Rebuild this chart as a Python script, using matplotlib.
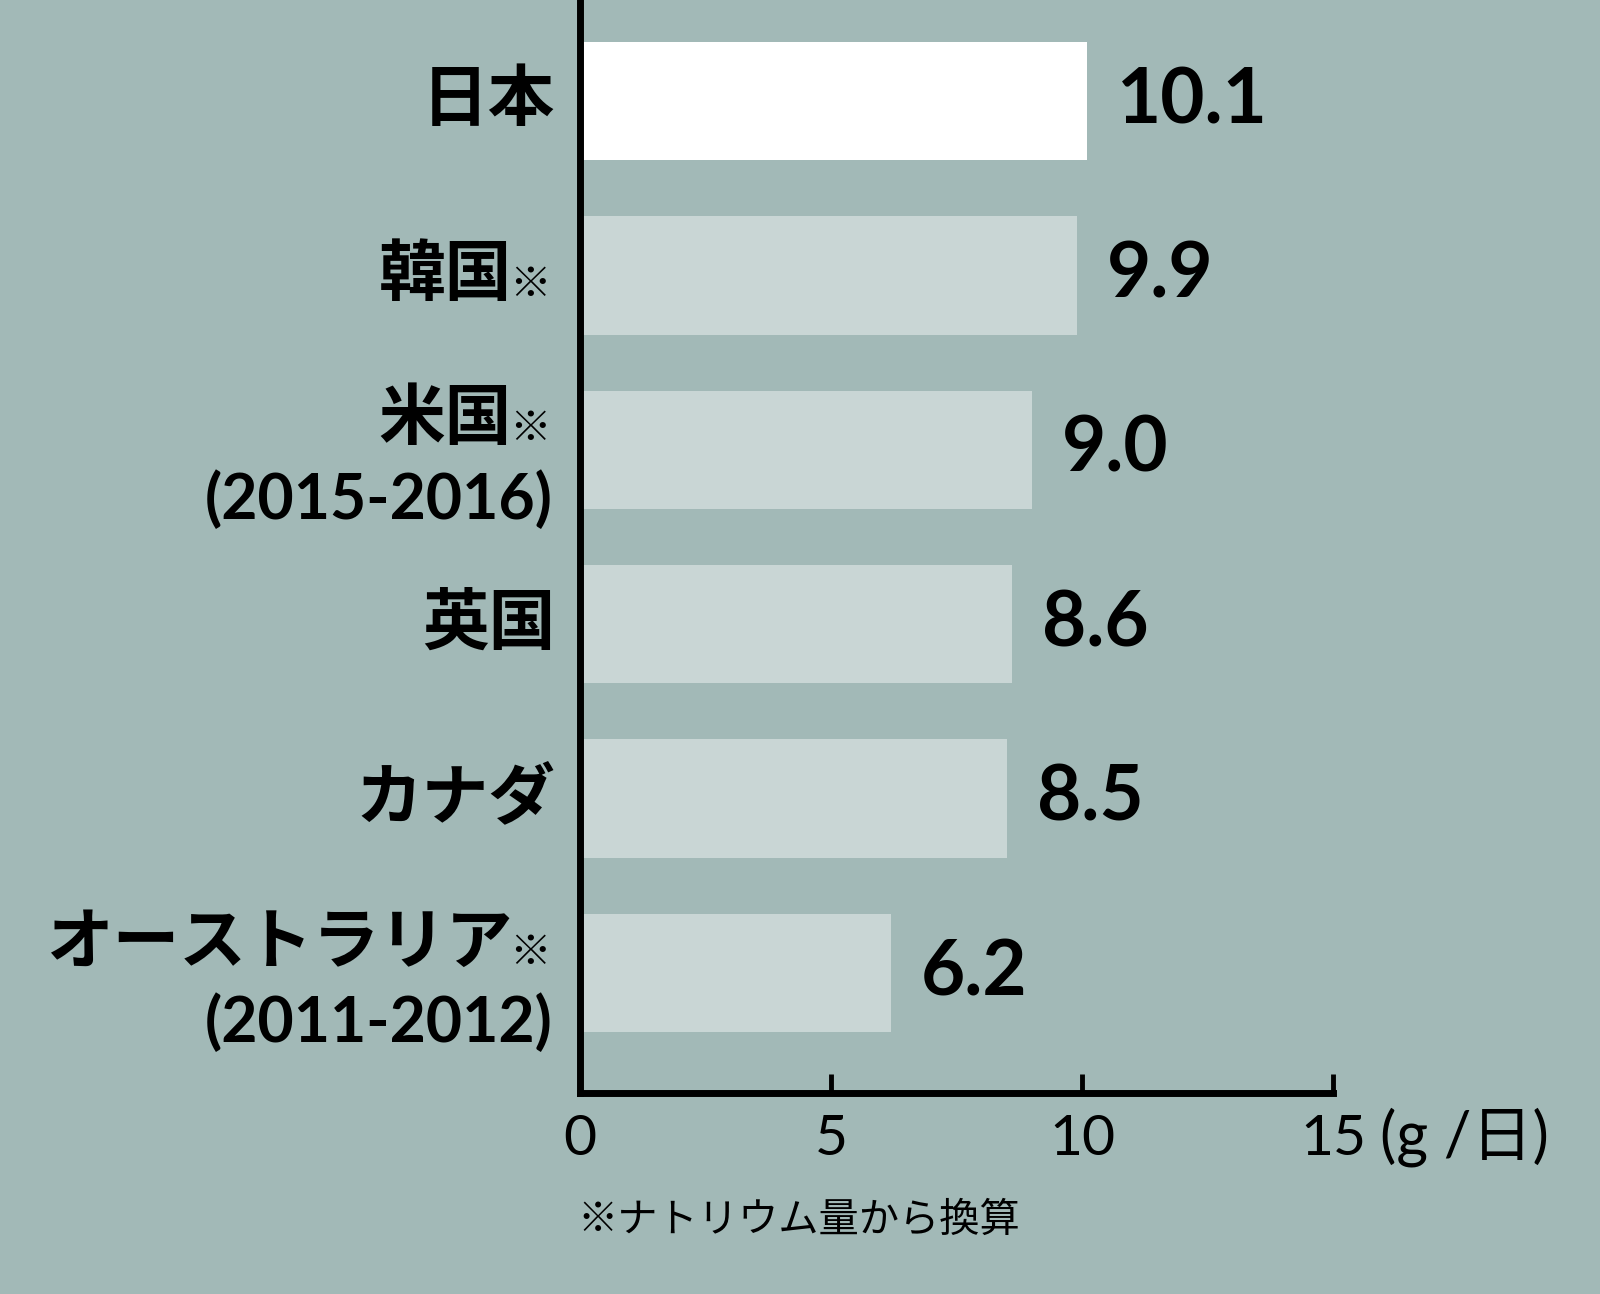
"""Salt intake by country, horizontal bar chart."""

import matplotlib
matplotlib.use("Agg")
import matplotlib.pyplot as plt

# data
countries = ["日本", "韓国", "米国", "英国", "カナダ", "オーストラリア"]
notes = [False, True, True, False, False, True]
periods = ["", "", "(2015-2016)", "", "", "(2011-2012)"]
values = [10.1, 9.9, 9.0, 8.6, 8.5, 6.2]
x_ticks = [0, 5, 10, 15]
unit_label = "(g /日)"
footnote = "※ナトリウム量から換算"

BG = "#a2b9b7"
BAR = "#c9d6d5"
HIGHLIGHT = "#ffffff"
FONTS = ["Lato", "Noto Sans CJK JP", "DejaVu Sans"]
JP_FONTS = ["Noto Sans CJK JP", "DejaVu Sans"]

plt.rcParams["font.family"] = FONTS

W, H = 1600, 1294
fig = plt.figure(figsize=(W / 100, H / 100), dpi=100, facecolor=BG)

# axes placed in pixels: x=0 at 580px, x=15 at 1333px, x axis at 1093px from top
ax_left, ax_right, ax_bottom = 580, 1333, 1093
ax = fig.add_axes([ax_left / W, 1 - ax_bottom / H, (ax_right - ax_left) / W, ax_bottom / H])
ax.set_facecolor(BG)

row_px = 174.4
first_px = 101
ypos = list(range(len(countries)))
colors = [HIGHLIGHT] + [BAR] * (len(countries) - 1)
ax.barh(ypos, values, height=0.68, color=colors, edgecolor="none", zorder=2)

ax.set_xlim(0, 15)
ax.set_ylim((ax_bottom - first_px) / row_px, -first_px / row_px)

for side in ["top", "right"]:
    ax.spines[side].set_visible(False)
for side in ["left", "bottom"]:
    ax.spines[side].set_linewidth(5)
    ax.spines[side].set_color("black")
    ax.spines[side].set_capstyle("projecting")
    ax.spines[side].set_zorder(3)

ax.set_yticks([])
ax.set_xticks(x_ticks)
ax.set_xticklabels([str(t) for t in x_ticks])
ax.tick_params(axis="x", direction="in", length=14, width=3.5, pad=15,
               labelsize=41, colors="black")

# value labels
for i, v in enumerate(values):
    ax.annotate(f"{v:.1f}", xy=(v, i), xytext=(30, 0), textcoords="offset pixels",
                ha="left", va="center", fontsize=55, fontweight="bold")

# category labels
trans = ("axes fraction", "data")
for i, (name, note, period) in enumerate(zip(countries, notes, periods)):
    dy = 30 if period else 0
    if note:
        ax.annotate(name, xy=(0, i), xycoords=trans, xytext=(-68, dy),
                    textcoords="offset pixels", ha="right", va="center",
                    fontsize=48, fontweight="bold", family=JP_FONTS,
                    annotation_clip=False)
        ax.annotate("※", xy=(0, i), xycoords=trans, xytext=(-29, dy - 10),
                    textcoords="offset pixels", ha="right", va="center",
                    fontsize=30, family=JP_FONTS, annotation_clip=False)
    else:
        ax.annotate(name, xy=(0, i), xycoords=trans, xytext=(-25, dy),
                    textcoords="offset pixels", ha="right", va="center",
                    fontsize=48, fontweight="bold", family=JP_FONTS,
                    annotation_clip=False)
    if period:
        ax.annotate(period, xy=(0, i), xycoords=trans, xytext=(-27, -50),
                    textcoords="offset pixels", ha="right", va="center",
                    fontsize=45, fontweight="bold", annotation_clip=False)

fig.text(1380 / W, 1 - 1137 / H, unit_label, ha="left", va="center", fontsize=44)
fig.text(577 / W, 1 - 1220 / H, footnote, ha="left", va="center", fontsize=29,
         family=JP_FONTS)

fig.savefig("out.png", dpi=100, facecolor=BG)
